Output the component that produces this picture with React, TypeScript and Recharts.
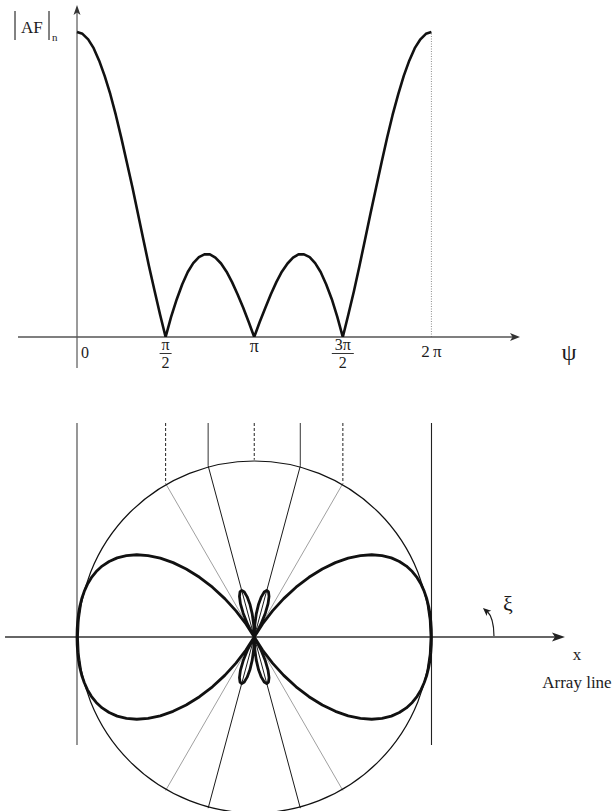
import React from "react";
import {
	ComposedChart,
	Line,
	XAxis,
	YAxis,
	ReferenceLine,
	ReferenceDot,
} from "recharts";

const SERIF = "'Liberation Serif', 'DejaVu Serif', serif";
const INK = "#1c1c1c";

// |AF|n of the four-element array, psi in units of pi
const psiSamples = [
	0, 0.031, 0.063, 0.094, 0.125, 0.156, 0.188, 0.219, 0.25, 0.281, 0.313,
	0.344, 0.375, 0.406, 0.438, 0.469, 0.5, 0.531, 0.563, 0.594, 0.625, 0.656,
	0.688, 0.719, 0.75, 0.781, 0.813, 0.844, 0.875, 0.906, 0.938, 0.969, 1,
	1.031, 1.063, 1.094, 1.125, 1.156, 1.188, 1.219, 1.25, 1.281, 1.313, 1.344,
	1.375, 1.406, 1.438, 1.469, 1.5, 1.531, 1.563, 1.594, 1.625, 1.656, 1.688,
	1.719, 1.75, 1.781, 1.813, 1.844, 1.875, 1.906, 1.938, 1.969, 2,
];
const afValues = [
	1.0, 0.994, 0.976, 0.947, 0.906, 0.856, 0.796, 0.728, 0.653, 0.573, 0.49,
	0.404, 0.318, 0.233, 0.151, 0.073, 0, 0.066, 0.124, 0.173, 0.213, 0.242,
	0.262, 0.271, 0.271, 0.26, 0.241, 0.214, 0.18, 0.14, 0.096, 0.049, 0, 0.049,
	0.096, 0.14, 0.18, 0.214, 0.241, 0.26, 0.271, 0.271, 0.262, 0.242, 0.213,
	0.173, 0.124, 0.066, 0, 0.073, 0.151, 0.233, 0.318, 0.404, 0.49, 0.573,
	0.653, 0.728, 0.796, 0.856, 0.906, 0.947, 0.976, 0.994, 1.0,
];
const psiTicks = [0, 0.5, 1, 1.5, 2];

// polar pattern over one quadrant (degrees from the array line)
const patternAngles = [
	0, 2.5, 5, 7.5, 10, 12.5, 15, 17.5, 20, 22.5, 25, 27.5, 30, 32.5, 35, 37.5,
	40, 42.5, 45, 47.5, 50, 52.5, 55, 57.5, 60, 62.5, 65, 67.5, 70, 72.5, 75,
	77.5, 80, 82.5, 85, 87.5, 90,
];
const patternRadii = [
	1.0, 1.0, 1.0, 1.0, 0.999, 0.997, 0.993, 0.987, 0.978, 0.965, 0.947, 0.923,
	0.893, 0.855, 0.809, 0.755, 0.692, 0.621, 0.543, 0.457, 0.367, 0.273, 0.18,
	0.087, 0, 0.08, 0.148, 0.204, 0.244, 0.267, 0.272, 0.26, 0.23, 0.187, 0.131,
	0.068, 0,
];

// psi values carried down from the upper plot onto the circle
const nullPsi = [0.5, 1.5];
const peakPsi = [0.74, 1.26];
const centerPsi = 1;
const edgePsi = [0, 2];

const topData = psiSamples.map((psi, i) => ({ psi, af: afValues[i] }));

// the quadrant is mirrored about both axes to close the figure
const patternData = (() => {
	const n = patternAngles.length;
	const pts: { x: number; y: number }[] = [];
	for (let quad = 0; quad < 4; quad++) {
		for (let i = 0; i < n - 1; i++) {
			const r = patternRadii[quad % 2 === 0 ? i : n - 1 - i];
			const a = ((quad * 90 + patternAngles[i]) * Math.PI) / 180;
			pts.push({ x: 1 + r * Math.cos(a), y: r * Math.sin(a) });
		}
	}
	pts.push(pts[0]);
	return pts;
})();

const circleY = (p: number) => Math.sqrt(Math.max(0, 1 - (p - 1) ** 2));

function PsiTick({ x, y, payload }: any) {
	const v = payload.value;
	const t = { fontFamily: SERIF, fill: INK };
	if (v === 0)
		return (
			<text x={x + 4} y={y + 21} fontSize={16} {...t}>
				0
			</text>
		);
	if (v === 1)
		return (
			<text x={x} y={y + 15} fontSize={18} textAnchor="middle" {...t}>
				π
			</text>
		);
	if (v === 2)
		return (
			<text x={x} y={y + 20} fontSize={17} textAnchor="middle" {...t}>
				2{"\u2009"}π
			</text>
		);
	const num = v === 0.5 ? "π" : "3π";
	const half = v === 0.5 ? 6 : 11;
	return (
		<g>
			<text x={x} y={y + 13} fontSize={16} textAnchor="middle" {...t}>
				{num}
			</text>
			<line
				x1={x - half}
				x2={x + half}
				y1={y + 16.5}
				y2={y + 16.5}
				stroke={INK}
				strokeWidth={0.9}
			/>
			<text x={x} y={y + 31} fontSize={16} textAnchor="middle" {...t}>
				2
			</text>
		</g>
	);
}

function AfAxis(props: any) {
	const x = props.x1;
	const top = Math.min(props.y1, props.y2);
	const bottom = Math.max(props.y1, props.y2);
	return (
		<g>
			<line x1={x} x2={x} y1={top + 5} y2={bottom} stroke="#707070" strokeWidth={1.4} />
			<path
				d={`M${x},${top} L${x - 3.5},${top + 10} L${x},${top + 7.5} L${x + 3.5},${top + 10} Z`}
				fill="#333"
			/>
			<line x1={x - 62} x2={x - 62} y1={top + 6} y2={top + 35} stroke={INK} strokeWidth={1.1} />
			<text x={x - 56} y={top + 27.5} fontSize={17} fontFamily={SERIF} fill={INK}>
				AF
			</text>
			<line x1={x - 28} x2={x - 28} y1={top + 6} y2={top + 35} stroke={INK} strokeWidth={1.1} />
			<text x={x - 25} y={top + 36} fontSize={11} fontFamily={SERIF} fill={INK}>
				n
			</text>
		</g>
	);
}

function PsiAxis(props: any) {
	const left = Math.min(props.x1, props.x2);
	const tip = Math.max(props.x1, props.x2);
	const y = props.y1;
	return (
		<g>
			<line x1={left} x2={tip - 6} y1={y} y2={y} stroke="#555" strokeWidth={1.4} />
			<path
				d={`M${tip},${y} L${tip - 10},${y - 4} L${tip - 7.5},${y} L${tip - 10},${y + 4} Z`}
				fill="#333"
			/>
			<text x={tip + 49} y={y + 23} fontSize={24} textAnchor="middle" fontFamily={SERIF} fill={INK}>
				ψ
			</text>
		</g>
	);
}

function ArrayLineAxis(props: any) {
	const left = Math.min(props.x1, props.x2);
	const tip = Math.max(props.x1, props.x2);
	const y = props.y1;
	return (
		<g>
			<line x1={left} x2={tip - 8} y1={y} y2={y} stroke="#333" strokeWidth={1.4} />
			<path
				d={`M${tip},${y} L${tip - 13},${y - 4.5} L${tip - 10},${y} L${tip - 13},${y + 4.5} Z`}
				fill="#222"
			/>
			<path
				d={`M${tip - 71},${y - 1} Q${tip - 71},${y - 19} ${tip - 78},${y - 26}`}
				fill="none"
				stroke={INK}
				strokeWidth={1.2}
			/>
			<path
				d={`M${tip - 82},${y - 29} L${tip - 73.7},${y - 26.3} L${tip - 77.5},${y - 25} L${tip - 78.3},${y - 21.1} Z`}
				fill={INK}
			/>
			<text x={tip - 57} y={y - 26} fontSize={22} textAnchor="middle" fontFamily={SERIF} fill={INK}>
				ξ
			</text>
			<text x={tip + 12} y={y + 23} fontSize={17} textAnchor="middle" fontFamily={SERIF} fill={INK}>
				x
			</text>
			<text x={tip + 12} y={y + 51} fontSize={17} textAnchor="middle" fontFamily={SERIF} fill={INK}>
				Array line
			</text>
		</g>
	);
}

function ArrayFactorPlot() {
	return (
		<ComposedChart
			width={613}
			height={390}
			data={topData}
			margin={{ top: 5, right: 93, bottom: 0, left: 18 }}
		>
			<XAxis
				type="number"
				dataKey="psi"
				domain={[-0.333, 2.5]}
				allowDataOverflow
				ticks={psiTicks}
				interval={0}
				axisLine={false}
				tickLine={false}
				tickSize={0}
				tickMargin={0}
				height={53}
				tick={<PsiTick />}
			/>
			<YAxis type="number" domain={[0, 1.0885]} allowDataOverflow hide />
			<ReferenceLine
				segment={[
					{ x: 2, y: 0 },
					{ x: 2, y: 1 },
				]}
				stroke="#8c8c8c"
				strokeWidth={1}
				strokeDasharray="1 1.5"
			/>
			<ReferenceLine
				segment={[
					{ x: 0, y: -0.1016 },
					{ x: 0, y: 1.0885 },
				]}
				ifOverflow="visible"
				shape={AfAxis}
			/>
			<ReferenceLine y={0} shape={PsiAxis} />
			<Line
				type="linear"
				dataKey="af"
				stroke="#111"
				strokeWidth={2.6}
				dot={false}
				activeDot={false}
				strokeLinejoin="round"
				isAnimationActive={false}
			/>
		</ComposedChart>
	);
}

function PatternPlot() {
	const topY = 1.2073;
	const lowY = -0.6093;
	return (
		<ComposedChart width={613} height={411} margin={{ top: 0, right: 0, bottom: 0, left: 0 }}>
			<XAxis type="number" dataKey="x" domain={[-0.4344, 3.024]} allowDataOverflow hide />
			<YAxis type="number" dataKey="y" domain={[-0.9817, 1.3371]} allowDataOverflow hide />

			{edgePsi.map((p, i) => (
				<ReferenceLine
					key={`edge-${p}`}
					segment={[
						{ x: p, y: topY },
						{ x: p, y: lowY },
					]}
					stroke={i === 0 ? "#8c8c8c" : "#222"}
					strokeWidth={i === 0 ? 1.8 : 1.1}
				/>
			))}

			{nullPsi.map((p) => (
				<React.Fragment key={`null-${p}`}>
					<ReferenceLine
						segment={[
							{ x: p, y: topY },
							{ x: p, y: circleY(p) },
						]}
						stroke="#222"
						strokeWidth={1}
						strokeDasharray="3 2"
					/>
					<ReferenceLine
						segment={[
							{ x: 1, y: 0 },
							{ x: p, y: circleY(p) },
						]}
						stroke="#a0a0a0"
						strokeWidth={1}
					/>
					<ReferenceLine
						segment={[
							{ x: 1, y: 0 },
							{ x: p, y: -circleY(p) },
						]}
						stroke="#a0a0a0"
						strokeWidth={1}
					/>
				</React.Fragment>
			))}

			{peakPsi.map((p) => (
				<React.Fragment key={`peak-${p}`}>
					<ReferenceLine
						segment={[
							{ x: p, y: topY },
							{ x: p, y: circleY(p) },
						]}
						stroke="#555"
						strokeWidth={1.2}
					/>
					<ReferenceLine
						segment={[
							{ x: 1, y: 0 },
							{ x: p, y: circleY(p) },
						]}
						stroke="#1a1a1a"
						strokeWidth={1}
					/>
					<ReferenceLine
						segment={[
							{ x: 1, y: 0 },
							{ x: p, y: -circleY(p) },
						]}
						stroke="#1a1a1a"
						strokeWidth={1}
					/>
				</React.Fragment>
			))}

			<ReferenceLine
				segment={[
					{ x: centerPsi, y: topY },
					{ x: centerPsi, y: 1 },
				]}
				stroke="#222"
				strokeWidth={1}
				strokeDasharray="3 2"
			/>
			<ReferenceLine
				segment={[
					{ x: centerPsi, y: 1 },
					{ x: centerPsi, y: -1 },
				]}
				stroke="#ababab"
				strokeWidth={1.2}
			/>

			<ReferenceDot x={1} y={0} r={176} fill="none" stroke="#111" strokeWidth={1.2} />

			<ReferenceLine
				segment={[
					{ x: -0.406, y: 0 },
					{ x: 2.753, y: 0 },
				]}
				shape={ArrayLineAxis}
			/>

			<Line
				data={patternData}
				type="linear"
				dataKey="y"
				stroke="#111"
				strokeWidth={2.8}
				dot={false}
				activeDot={false}
				strokeLinejoin="round"
				isAnimationActive={false}
			/>
		</ComposedChart>
	);
}

export default function App() {
	return (
		<div
			style={{
				position: "absolute",
				left: 0,
				top: 0,
				width: 613,
				height: 811,
				background: "#fff",
				overflow: "hidden",
			}}
		>
			<div style={{ position: "absolute", left: 0, top: 0 }}>
				<ArrayFactorPlot />
			</div>
			<div style={{ position: "absolute", left: 0, top: 400 }}>
				<PatternPlot />
			</div>
		</div>
	);
}
